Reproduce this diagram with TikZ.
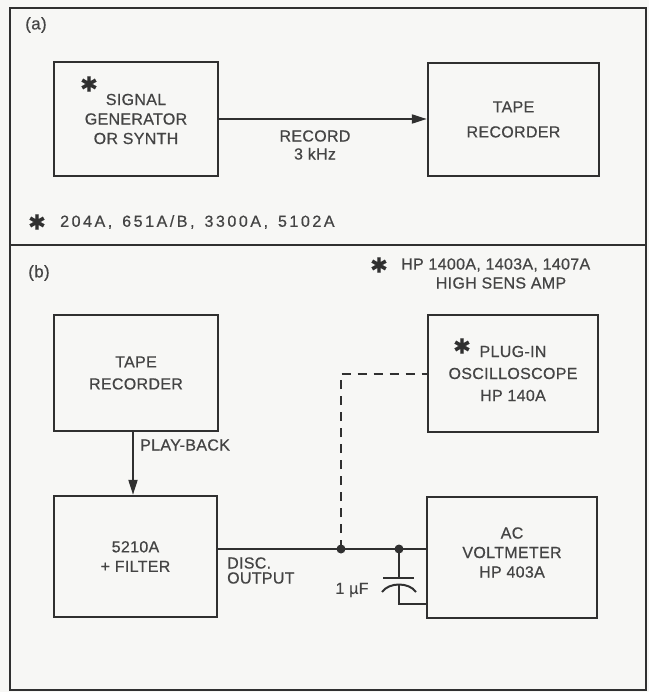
\documentclass[tikz,border=0pt]{standalone}
\usepackage{fontspec}
\setmainfont[LetterSpace=2,FakeBold=0.6]{Liberation Sans}
\newfontfamily\widefont[LetterSpace=16,FakeBold=0.6]{Liberation Sans}
\newfontfamily\symfont[FakeBold=0.6]{DejaVu Sans}
\usetikzlibrary{arrows.meta}
\definecolor{ink}{HTML}{303030}
\definecolor{txt}{HTML}{444444}
\definecolor{paper}{HTML}{F7F7F5}
\begin{document}
\begin{tikzpicture}[x=1pt,y=-1pt,
  frame/.style={draw=ink,line width=2.2pt},
  box/.style={draw=ink,line width=2.4pt,rectangle,align=center,text=txt,
    font=\fontsize{16}{19.5}\selectfont,inner sep=0pt},
  wire/.style={draw=ink,line width=2pt},
  arr/.style={wire,-{Triangle[length=15pt,width=9pt]}},
  dashline/.style={wire,dash pattern=on 9pt off 7pt},
  lbl/.style={text=txt,font=\fontsize{16}{18}\selectfont,inner sep=0pt},
  starmark/.style={text=ink,font=\symfont\fontsize{21}{21}\selectfont,inner sep=0pt},
  dot/.style={fill=ink}]
\fill[paper] (0,0) rectangle (649,692);
\useasboundingbox (0,0) rectangle (649,692);
% frames
\draw[frame] (10,8) rectangle (646,690);
\draw[frame] (10,245) -- (646,245);
% panel labels
\node[lbl,font=\fontsize{17}{18}\selectfont] (la) at (36,25) {(a)};
\node[lbl,font=\fontsize{17}{18}\selectfont] (lb) at (39,273) {(b)};
% ---- panel (a)
\node[box,minimum width=164,minimum height=114] (sg) at (136,119) {SIGNAL\\GENERATOR\\OR SYNTH};
\node[starmark] (sgs) at (89,84) {✱};
\node[box,minimum width=171,minimum height=113,font=\fontsize{16}{25}\selectfont] (tr1) at (513.5,119.5) {TAPE\\RECORDER};
\draw[arr] (sg.east) -- (sg.east -| tr1.west);
\node[lbl,align=center] (rec) at (315,145) {RECORD\\3 kHz};
\node[starmark] (fas) at (37,222) {✱};
\node[lbl,anchor=west,font=\widefont\fontsize{16}{18}\selectfont] (fat) at (60,222) {204A,\hspace{3pt} 651A/B,\hspace{3pt} 3300A,\hspace{3pt} 5102A};
% ---- panel (b)
\node[starmark] (fbs) at (379,265) {✱};
\node[lbl,anchor=west] (fbt) at (401,265) {HP 1400A, 1403A, 1407A};
\node[lbl] (fbt2) at (501,283) {HIGH SENS AMP};
\node[box,minimum width=164,minimum height=116,font=\fontsize{16}{22}\selectfont] (tr2) at (136,373) {TAPE\\RECORDER};
\node[box,minimum width=170,minimum height=117,font=\fontsize{16}{22}\selectfont] (osc) at (513,373.5) {PLUG-IN\\OSCILLOSCOPE\\HP 140A};
\node[starmark] (oscs) at (462,346) {✱};
\node[box,minimum width=163,minimum height=121] (flt) at (135.5,556.5) {5210A\\+ FILTER};
\node[box,minimum width=170,minimum height=121,
  label={[lbl,align=center,yshift=5pt,font=\fontsize{16}{19.5}\selectfont]center:{AC\\VOLTMETER\\HP 403A}}] (vm) at (512,557.5) {};
% play-back
\coordinate (pb) at (133,450);
\draw[arr] (tr2.south -| pb) -- (flt.north -| pb);
\node[lbl,anchor=west] (pbl) at (140,445) {PLAY-BACK};
% output wire
\coordinate (j1) at (341,549);
\coordinate (j2) at (399,549);
\draw[wire] (flt.east |- j1) -- (j1) -- (j2) -- (vm.west |- j2);
\draw[dashline] (j1) -- (j1 |- osc.west) -- (osc.west);
\fill[dot] (j1) circle (4.5pt);
\fill[dot] (j2) circle (4.5pt);
\node[lbl,anchor=west,align=left,font=\fontsize{16}{15}\selectfont] (disc) at (227,570.5) {DISC.\\OUTPUT};
% capacitor
\coordinate (cp1) at (399,578);
\coordinate (cp2) at (399,584.5);
\coordinate (cb) at (399,604);
\draw[wire] (j2) -- (cp1);
\draw[wire] (383,578) -- (414,578);
\draw[wire] (382,592) .. controls (389,582) and (409,582) .. (416,592);
\draw[wire] (cp2) -- (cb) -- (vm.west |- cb);
\node[lbl] (cap) at (352,590) {1 µF};
\end{tikzpicture}
\end{document}
